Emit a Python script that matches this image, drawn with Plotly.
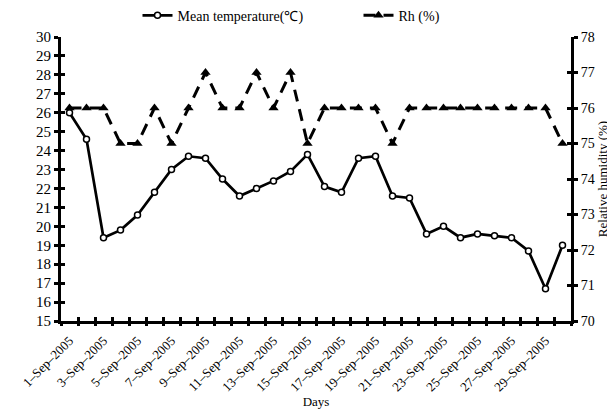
import plotly.graph_objects as go

days = list(range(1, 31))
temperature = [26.0, 24.6, 19.4, 19.8, 20.6, 21.8, 23.0, 23.7, 23.6, 22.5,
               21.6, 22.0, 22.4, 22.9, 23.8, 22.1, 21.8, 23.6, 23.7, 21.6,
               21.5, 19.6, 20.0, 19.4, 19.6, 19.5, 19.4, 18.7, 16.7, 19.0]
rh = [76, 76, 76, 75, 75, 76, 75, 76, 77, 76,
      76, 77, 76, 77, 75, 76, 76, 76, 76, 75,
      76, 76, 76, 76, 76, 76, 76, 76, 76, 75]
label_days = [1, 3, 5, 7, 9, 11, 13, 15, 17, 19, 21, 23, 25, 27, 29]
label_text = ["1–Sep–2005", "3–Sep–2005", "5–Sep–2005", "7–Sep–2005",
              "9–Sep–2005", "11–Sep–2005", "13–Sep–2005", "15–Sep–2005",
              "17–Sep–2005", "19–Sep–2005", "21–Sep–2005", "23–Sep–2005",
              "25–Sep–2005", "27–Sep–2005", "29–Sep–2005"]
boundaries = [d - 0.5 for d in days] + [30.5]

FONT = "Liberation Serif"

fig = go.Figure()
fig.add_trace(go.Scatter(
    x=days, y=temperature, mode="lines+markers", name="Mean temperature(℃)",
    line=dict(color="black", width=2.7),
    marker=dict(symbol="circle", size=6, color="white",
                line=dict(color="black", width=1.5)),
))
fig.add_trace(go.Scatter(
    x=days, y=rh, mode="lines+markers", name="Rh (%)", yaxis="y2",
    line=dict(color="black", width=3, dash="12px,8px"),
    marker=dict(symbol="triangle-up", size=9, color="black"),
))
# helper traces so tick-only overlay axes are drawn
fig.add_trace(go.Scatter(x=[None], y=[None], xaxis="x2", yaxis="y3",
                         showlegend=False, hoverinfo="skip"))
fig.add_trace(go.Scatter(x=[None], y=[None], xaxis="x3", yaxis="y4",
                         showlegend=False, hoverinfo="skip"))

tick_common = dict(ticklen=4, tickwidth=2.5, tickcolor="black",
                   showgrid=False, zeroline=False)

fig.update_layout(
    width=615, height=411,
    margin=dict(l=53, r=52, t=29, b=98, autoexpand=False),
    paper_bgcolor="white", plot_bgcolor="white",
    font=dict(family=FONT, size=14, color="black"),
    showlegend=True,
    legend=dict(orientation="h", x=0.15, xanchor="left", y=1.075,
                yanchor="middle", font=dict(size=14, family=FONT),
                entrywidth=176, entrywidthmode="pixels",
                bgcolor="rgba(0,0,0,0)"),
    xaxis=dict(range=[0.5, 30.5], tickmode="array", tickvals=label_days,
               ticktext=label_text, tickangle=-45,
               ticks="outside", ticklen=4, tickcolor="rgba(0,0,0,0)",
               tickfont=dict(size=13, family=FONT),
               showline=True, linecolor="black", linewidth=3,
               showgrid=False, zeroline=False,
               title=dict(text="Days", font=dict(size=13, family=FONT), standoff=2)),
    xaxis2=dict(range=[0.5, 30.5], overlaying="x", anchor="y", side="bottom",
                tickmode="array", tickvals=boundaries, ticks="outside",
                showticklabels=False, showline=False, **tick_common),
    xaxis3=dict(range=[0.5, 30.5], overlaying="x", anchor="y", side="bottom",
                tickmode="array", tickvals=boundaries, ticks="inside",
                showticklabels=False, showline=False, **tick_common),
    yaxis=dict(range=[15, 30], dtick=1, tick0=15, ticks="outside",
               showline=True, linecolor="black", linewidth=3,
               tickfont=dict(size=15, family=FONT), **tick_common),
    yaxis3=dict(range=[15, 30], dtick=1, tick0=15, ticks="inside",
                overlaying="y", anchor="x", side="left",
                showticklabels=False, showline=False, **tick_common),
    yaxis2=dict(range=[70, 78], dtick=1, tick0=70, ticks="outside",
                overlaying="y", anchor="x", side="right",
                showline=True, linecolor="black", linewidth=3,
                tickfont=dict(size=14, family=FONT),
                title=dict(text="Relative humidity (%)",
                           font=dict(size=13, family=FONT), standoff=0),
                **tick_common),
    yaxis4=dict(range=[70, 78], dtick=1, tick0=70, ticks="inside",
                overlaying="y", anchor="x", side="right",
                showticklabels=False, showline=False, **tick_common),
)

fig.write_html("out.html")
